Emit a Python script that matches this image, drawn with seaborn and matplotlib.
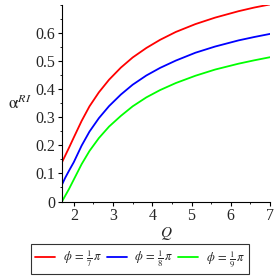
import matplotlib
matplotlib.use("Agg")
import matplotlib.pyplot as plt
import matplotlib.ticker as mticker
import seaborn as sns
import pandas as pd

# Data
Q = [1.70, 1.78, 1.88, 2.0, 2.2, 2.4, 2.64, 2.9, 3.2, 3.5, 3.85, 4.2, 4.6, 5.1, 5.6, 6.2, 6.6, 7.0]
alpha_phi7 = [0.140, 0.163, 0.192, 0.228, 0.287, 0.339, 0.389, 0.434, 0.477, 0.513, 0.547,
              0.576, 0.604, 0.632, 0.655, 0.678, 0.691, 0.702]
alpha_phi8 = [0.060, 0.084, 0.110, 0.140, 0.199, 0.249, 0.297, 0.340, 0.381, 0.416, 0.449,
              0.476, 0.502, 0.530, 0.552, 0.574, 0.586, 0.597]
alpha_phi9 = [0.000, 0.020, 0.045, 0.078, 0.133, 0.180, 0.226, 0.267, 0.305, 0.339, 0.371,
              0.397, 0.422, 0.448, 0.470, 0.491, 0.503, 0.514]
labels = [r'$\phi\, =\, \frac{1}{7}\,\pi$', r'$\phi\, =\, \frac{1}{8}\,\pi$',
          r'$\phi\, =\, \frac{1}{9}\,\pi$']
colors = ['#ff0000', '#0000ff', '#00ff00']
x_ticks = [2, 3, 4, 5, 6, 7]
y_ticks = [0, 0.1, 0.2, 0.3, 0.4, 0.5, 0.6]

sns.set_style("white")
plt.rcParams['font.family'] = ['Liberation Serif', 'DejaVu Serif']
plt.rcParams['mathtext.fontset'] = 'stix'

df = pd.concat([
    pd.DataFrame({'Q': Q, 'alpha': vals, 'series': lab})
    for vals, lab in zip([alpha_phi7, alpha_phi8, alpha_phi9], labels)
])

fig = plt.figure(figsize=(2.78, 2.78), dpi=100)
ax = fig.add_axes([62/278, 1 - 201.5/278, (270 - 62)/278, (201.5 - 5)/278])

sns.lineplot(data=df, x='Q', y='alpha', hue='series', palette=colors,
             ax=ax, linewidth=1.3, legend=False)

ax.set_xlim(1.70, 7.0)
ax.set_ylim(0, 0.70)
ax.set_xticks(x_ticks)
ax.set_yticks(y_ticks)
ax.xaxis.set_minor_locator(mticker.MultipleLocator(0.5))
ax.yaxis.set_minor_locator(mticker.MultipleLocator(0.05))
ax.yaxis.set_major_formatter(mticker.FuncFormatter(lambda v, p: '%g' % round(v, 2)))
ax.tick_params(which='major', direction='out', length=3, width=0.8, color='black',
               labelsize=11.5, pad=2, bottom=True, left=True)
ax.tick_params(which='minor', direction='out', length=1.5, width=0.6, color='black',
               bottom=True, left=True)
for s in ['top', 'right']:
    ax.spines[s].set_visible(False)
for s in ['left', 'bottom']:
    ax.spines[s].set_color('black')
    ax.spines[s].set_linewidth(0.8)

ax.set_xlabel('')
ax.set_ylabel('')
fig.text(166/278, 1 - 233/278, r'$Q$', ha='center', va='center', fontsize=11)
fig.text(20/278, 1 - 104/278, r'$\mathrm{\alpha}^{\mathit{RI}}$', ha='center', va='center', fontsize=12.5)

handles = [plt.Line2D([], [], color=c, lw=1.3) for c in colors]
leg = fig.legend(handles, labels, loc='center', bbox_to_anchor=(140/278, 1 - 259/278),
                 ncol=3, fontsize=9, frameon=True, fancybox=False, handlelength=1.6,
                 handletextpad=0.6, columnspacing=0.4, borderpad=0.35, borderaxespad=0)
leg.get_frame().set_edgecolor('black')
leg.get_frame().set_linewidth(0.8)

fig.savefig('out.png', dpi=100)
